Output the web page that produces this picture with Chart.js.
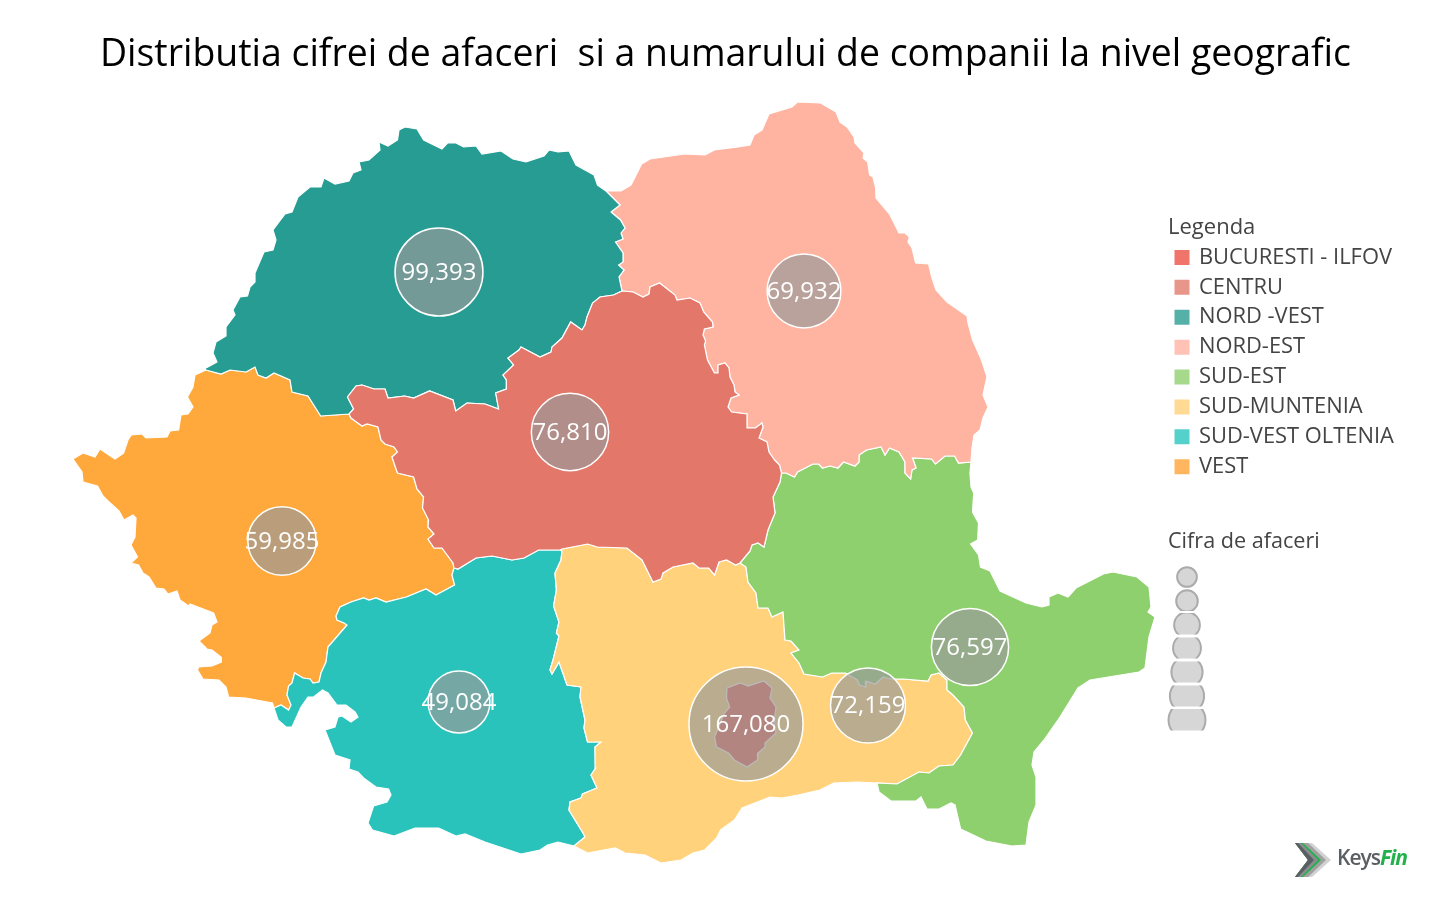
<!DOCTYPE html>
<html><head><meta charset="utf-8">
<style>html,body{margin:0;padding:0;background:#fff;overflow:hidden}canvas{display:block}</style>
<script src="https://cdn.jsdelivr.net/npm/chart.js@4"></script>
</head><body><canvas id="c" width="1435" height="899"></canvas>
<script>
const titleText = 'Distributia cifrei de afaceri  si a numarului de companii la nivel geografic';
const regionNames = ['BUCURESTI - ILFOV','CENTRU','NORD -VEST','NORD-EST','SUD-EST','SUD-MUNTENIA','SUD-VEST OLTENIA','VEST'];
const regionColors = ['#E85A4F','#E3786A','#269C93','#FFB4A2','#8FD06E','#FFD27B','#29C3BC','#FFA83C'];
const legendColors = ['#F0746A','#E8958A','#55B0A8','#FFC2B5','#A6D98B','#FFDA94','#55D1CB','#FFB65F'];
const bubbleValues = [99393,69932,76810,59985,49084,167080,72159,76597];
const bubbleX = [439,804,570,282,459,746,868,970];
const bubbleY = [272,291,432,541,702,724,705.5,647];
const sizeLegendValues = [5000,6000,8500,10000,12500,15000,17500];
const sizeLegendY = [577,601,625,648,672,696,720];
const sizeLegendTop = [566,589,613,637.5,661.5,685.5,709];
const sizeLegendBottom = [588,611,634.5,658.5,682.5,706.5,730.5];

// Map outline pieces (map units)
const nvOuter = [[206,368],[217,362],[213,353],[216,342],[226,336],[226,327],[235,315],[233,310],[240,297],[247.5,296],[250,287],[255,282],[255,273],[264,252],[273,250],[276,240],[273,230],[285,214],[292,212],[298,197],[310,187],[321,187],[324,178],[335,184],[349,181],[353,173],[361,170],[359,162],[369,160],[380,150],[379,142],[388,146],[397.5,140],[399,130],[405,127],[417,129],[423.6,140],[442,149],[447.5,143],[456,143],[463.6,147],[476,146],[482,154],[501,151],[513,159],[526,162],[544,156],[549,150],[558,152],[569,151],[576,165],[594,175],[597.5,185],[606,191]];
const nvNe = [[606,191],[620,205],[611,212],[620.5,220],[625,228],[621,233],[623,239],[615.5,242],[623,253],[623,262],[618.6,265],[624,270],[619,277],[622,291]];
const nvCentru = [[622,291],[613.6,295],[600,297],[592.6,303],[587,317],[585,325],[582,330],[570.7,322],[562,338],[552,347],[551,352],[540,357],[521,347],[519,350],[508,358],[513.6,365],[503,375],[506.4,380],[506.4,389],[495.7,393],[498.6,409],[485,404],[467,403],[455.7,411],[453,400],[429.6,391],[413.6,398],[404.6,396],[388,398],[385,389],[374,389],[362,385],[356,386],[347.5,397],[353.6,409],[349,414]];
const nvVest = [[349,414],[320.7,416],[308,396],[292,392],[290,380],[274,373],[266,378],[258,375],[255,367],[246,372],[230,370],[221,374],[206,370]];
const vestOuter = [[206,370],[195,375],[193,387],[187.5,397],[193,407],[188,414],[181,415],[178.6,430],[170,431],[167,437],[146,438],[142,434],[131.4,435],[128,440],[123.6,453],[115,459],[100,449],[95,457],[83,453],[73,459],[82,472],[83,482],[97.5,486],[103,496],[108,501],[119,511],[124,520],[133,515],[136,518],[135,537],[131,545],[137.5,557],[131,563],[138.6,565],[143,573],[149,577],[156,588],[164,589],[168,594],[177,591],[180,600],[188.6,606],[190,604],[213.6,613],[217,622],[212,625],[210,633],[199,641],[207,649],[212,650],[221,657],[221.4,662],[212,666],[198.6,667],[197.5,670],[203,679],[219,680],[226,687],[228.6,697],[246,698],[272.5,703],[274,708]];
const vestSv = [[274,708],[281,705],[288.6,710],[291,705],[287,695],[288.6,686],[292,683],[294.6,673],[303,678],[310,679],[313,683],[319,682],[321,673],[326,662],[328,647],[347,625],[344,623],[337,620],[336,616],[340,607],[351,602],[363.6,598],[369,600],[376,598],[386,602],[406.4,597],[426,589],[436,595],[454.6,585],[452,575],[454,568]];
const vestCentru = [[454,568],[453,563],[442,548],[434,548],[428,539],[434,534],[428,527],[428.6,520],[422.5,508],[423.6,497],[417,489],[413.6,477],[397.5,473],[395.7,468],[392,457],[397.5,452],[394,447],[385,444],[381,440],[378,427],[367,424],[362,426],[351,418],[349,414]];
const centruSv = [[454,568],[458,569],[476,558],[492,556],[512,560],[524,558],[538.6,550],[560,550]];
const svSm = [[560,550],[562,551],[561,560],[555,573],[556.4,590],[553.6,606],[559,622],[556.4,633],[559,636],[553,660],[550,670],[552,674],[559,662],[567,685],[581,687],[580,697],[585,720],[584,728],[587.5,742],[601,742],[595,747],[595.7,768],[591,775],[597,788],[582.5,794],[581,798],[570,802],[569,810],[583,833],[585,837],[574,846]];
const svOuter = [[574,846],[558,842],[547.5,845],[540,850],[521,854],[503,848],[485,842],[465,834],[456,836],[438.6,828],[415,828],[394,836],[372.5,830],[368,823],[373.6,806],[387,802],[391,795],[388.6,789],[376,787],[363.6,778],[358,772],[349,769],[350,760],[335,755],[331,745],[325,730],[335,727],[338,717],[342,716],[351,722],[358,717],[355,712],[346,705],[337,705],[328,693],[322.5,690],[313.6,697],[308,697],[301,707],[292,727],[286,727],[278,720],[274,708]];
const centruSm = [[560,550],[562,549],[587.6,544],[597.5,547],[627,548],[642,560],[653,582],[661,579],[663,573],[673,567],[693,563],[699,568],[708.6,568],[714.6,575],[719,562],[726.5,560],[735.6,565],[740,563]];
const centruSe = [[740,563],[750,551],[752,545],[758,543],[764,547],[768,530],[775,513],[773,497],[780,482],[781.5,473]];
const neCentru = [[622,291],[633,292],[643,297],[649,294],[650,287],[659.6,283],[675,295],[677,300],[690,298],[700,303],[703.7,312],[712.5,322],[713,327],[704.4,329],[703,335],[705.6,341],[704.4,345],[707.5,360],[714.4,373],[718,373],[718,365],[725,363],[729,368],[730,377],[734,385],[735,392],[739,395],[731,398],[728,407],[731.6,412],[747,414],[747.7,428],[755.4,428],[762,423],[763,427],[759,438],[767,442],[769,452],[774.6,460],[779.5,465],[781.5,473]];
const neSe = [[781.5,473],[786,473],[794.5,477],[797.5,472],[813,464],[818.6,464],[822.5,468],[830,466],[838,468],[843.5,462],[855,466],[859,462],[859,455],[866.5,450],[881,447],[885,455],[889.5,448],[899,452],[905,462],[905,473],[910.6,479],[912,470],[916,468],[912.5,458],[931.6,459],[935.5,464],[945,456],[954.6,456],[958.5,463],[971,462]];
const neOuter = [[606,191],[621,191],[631,185],[641.6,164],[650,159],[684.5,154],[705,155],[714.4,150],[738,147],[750,145],[754,135],[762,130],[769,114],[792,107],[797.5,102],[820.5,103],[836,112],[840,122],[847,127],[854,137],[855,143],[864,153],[863,158],[867.7,162],[869.6,175],[873,177],[875.7,188],[876,198],[889.5,214],[899,233],[905,233],[909.4,237],[908,242],[912,248],[915.6,263],[928.6,264],[932,278],[936,290],[947,302],[967,316],[968,323],[972.6,340],[981.5,360],[987,377],[983,395],[988,407],[983,418],[980,430],[974,435],[972,448],[971,462]];
const seOuter = [[971,462],[970,473],[971,487],[973.7,493],[972.5,512],[978.5,523],[977.7,540],[970.6,544],[978.5,555],[980.5,567],[990,571],[1000,591],[1026,603],[1042,607],[1049,605],[1049,597],[1058,593],[1068,597],[1076,588],[1103.5,574],[1113,572],[1137,577],[1149,587],[1151,607],[1148,612],[1155,617],[1149,637],[1145,668],[1139,672],[1090,680],[1078,688],[1060,717],[1044,740],[1034,752],[1032,765],[1036,777],[1036,805],[1029,822],[1026,845],[1012,846],[986,841],[960.6,829],[955,805],[951,803],[939,809],[927,809],[921,797],[916,801],[891,801],[879,792],[877,783]];
const seSm = [[877,783],[897,784],[919,772],[929,773],[939,766],[953,765],[960.6,755],[972.5,733],[965.4,720],[964,707],[953,695],[947,690],[947,680],[939,673],[931,675],[928,681],[903,679],[891,679],[883,677],[875.3,684],[866,681],[865.4,687],[859.5,685],[857.5,680],[845.5,673],[831.7,673],[822.5,677],[804,674],[799,663],[791,653],[799,650],[791,641],[785,640],[783,612],[772,617],[768,608],[758,608],[756,593],[748,582],[746,567],[740,563]];
const smOuter = [[877,783],[857.5,782],[833.7,783],[820,790],[798,795],[782,798],[770,797],[742,808],[734.4,820],[720.6,830],[716.6,838],[704.7,850],[693,853],[681,860],[661,863],[645,855],[625,853],[615.4,848],[587.6,853],[574,846]];
const bucuresti = [[727,688],[740.4,683],[748,686],[764,681],[772,688],[770,698],[776,707],[774,723],[776,733],[765,743],[765,747],[758,753],[757.5,760],[747,767],[734.4,760],[728.5,753],[716.6,747],[714.6,737],[724.5,713],[729.7,707],[726.5,698],[727,688]];

const rev = a => a.slice().reverse();
const join = (...parts) => parts.flat();
const regionShapes = [
  bucuresti,
  join(nvCentru, rev(vestCentru), centruSv, centruSm, centruSe, rev(neCentru)),
  join(nvOuter, nvNe, nvCentru, nvVest),
  join(neOuter, rev(neSe), rev(neCentru), rev(nvNe)),
  join(neSe, seOuter, seSm, centruSe),
  join(centruSm, rev(seSm), smOuter, rev(svSm)),
  join(vestSv, centruSv, svSm, svOuter),
  join(nvVest, vestOuter, vestSv, vestCentru)
];
const radiusOf = v => 0.1395 * Math.sqrt(v);
const Y_TOP = 100, Y_BOTTOM = 899;

const datasets = [];
regionShapes.forEach((shape, i) => datasets.push({
  type:'line', label:regionNames[i],
  data: shape.map(p => ({x:p[0], y:p[1]})),
  backgroundColor: regionColors[i], borderColor:'#ffffff', borderWidth:1.2,
  fill:'shape', tension:0, pointRadius:0, order: i === 0 ? 1 : 2
}));
datasets.push({
  type:'bubble', label:'Cifra de afaceri', labelled:true,
  data: bubbleValues.map((v,i) => ({x:bubbleX[i], y:bubbleY[i], r:radiusOf(v), v})),
  backgroundColor:'rgba(153,153,153,0.68)', borderColor:'#ffffff', borderWidth:1.5, order:0
});
sizeLegendValues.forEach((v,i) => datasets.push({
  type:'bubble', label:'size'+i,
  data:[{x:1187, y:sizeLegendY[i], r:radiusOf(v)}],
  backgroundColor:'#D6D6D6', borderColor:'#ABABAB', borderWidth:2, order:0,
  clip:{left:0, right:0, top:-(sizeLegendTop[i]-Y_TOP), bottom:-(Y_BOTTOM-sizeLegendBottom[i])}
}));

const placement = {
  id:'placement',
  afterLayout(chart){
    const l = chart.legend;
    l.left = 1168; l.right = 1430; l.top = 216.5; l.bottom = 520;
    const t = chart.titleBlock;
    t.left += 8; t.right += 8;
  }
};
const extras = {
  id:'extras',
  afterDatasetsDraw(chart){
    const ctx = chart.ctx;
    ctx.save();
    ctx.textAlign='center'; ctx.textBaseline='middle';
    ctx.fillStyle='#ffffff'; ctx.font='24px "Open Sans"';
    chart.data.datasets.forEach((d,di) => {
      if(!d.labelled) return;
      chart.getDatasetMeta(di).data.forEach((el,i) => {
        ctx.fillText(bubbleValues[i].toLocaleString('en-US'), el.x, el.y + 1);
      });
    });
    ctx.restore();
  },
  afterDraw(chart){
    const ctx = chart.ctx;
    ctx.save();
    ctx.textAlign='left'; ctx.textBaseline='middle';
    ctx.fillStyle='#444444'; ctx.font='21.6px "Open Sans"';
    ctx.fillText('Cifra de afaceri', 1168, 541.5);
    // logo
    const poly=(pts,c)=>{ctx.beginPath();pts.forEach((p,i)=>i?ctx.lineTo(p[0],p[1]):ctx.moveTo(p[0],p[1]));ctx.closePath();ctx.fillStyle=c;ctx.fill();};
    poly([[1295,843],[1312,843],[1331,860],[1312,877],[1295,877],[1308,860]],'#D2D2D2');
    poly([[1295,843],[1308,843],[1326,860],[1308,877],[1295,877],[1308,860]],'#A0A0A0');
    poly([[1295,843],[1303,843],[1321,860],[1303,877],[1295,877],[1308,860]],'#22B24C');
    poly([[1295,843],[1301,843],[1318,860],[1301,877],[1295,877],[1308,860]],'#8A8D90');
    poly([[1295,843],[1298,843],[1314,860],[1298,877],[1295,877],[1308,860]],'#5A5F63');
    ctx.letterSpacing='-1px';
    ctx.font='600 21px "Open Sans"'; ctx.fillStyle='#5A5F63';
    ctx.fillText('Keys',1337,859);
    const w=ctx.measureText('Keys').width;
    ctx.font='italic 700 21px "Open Sans"'; ctx.fillStyle='#22B24C';
    ctx.fillText('Fin',1337+w,859);
    ctx.restore();
  }
};

new Chart(document.getElementById('c'), {
  type:'bubble',
  data:{datasets},
  plugins:[placement, extras],
  options:{
    responsive:false, animation:false, events:[], devicePixelRatio:1,
    layout:{padding:0, autoPadding:false},
    scales:{
      x:{type:'linear', min:0, max:1435, display:false},
      y:{type:'linear', min:Y_TOP, max:Y_BOTTOM, reverse:true, display:false}
    },
    plugins:{
      tooltip:{enabled:false},
      title:{display:true, text:titleText, color:'#000000',
        font:{family:'"Open Sans"', size:37.4, weight:'normal', lineHeight:1},
        padding:{top:36.3, bottom:26.3}},
      legend:{display:true, position:'chartArea', align:'start',
        title:{display:true, text:'Legenda', position:'start', color:'#444444', padding:0,
          font:{family:'"Open Sans"', size:22, lineHeight:1}},
        labels:{usePointStyle:true, boxWidth:12, boxHeight:15, padding:8, color:'#555555',
          font:{family:'"Open Sans"', size:21.9},
          generateLabels:() => regionNames.map((n,i) => ({text:n, fillStyle:legendColors[i], strokeStyle:legendColors[i], lineWidth:0, pointStyle:'rect', hidden:false, datasetIndex:i}))
        }
      }
    }
  }
});
</script></body></html>
